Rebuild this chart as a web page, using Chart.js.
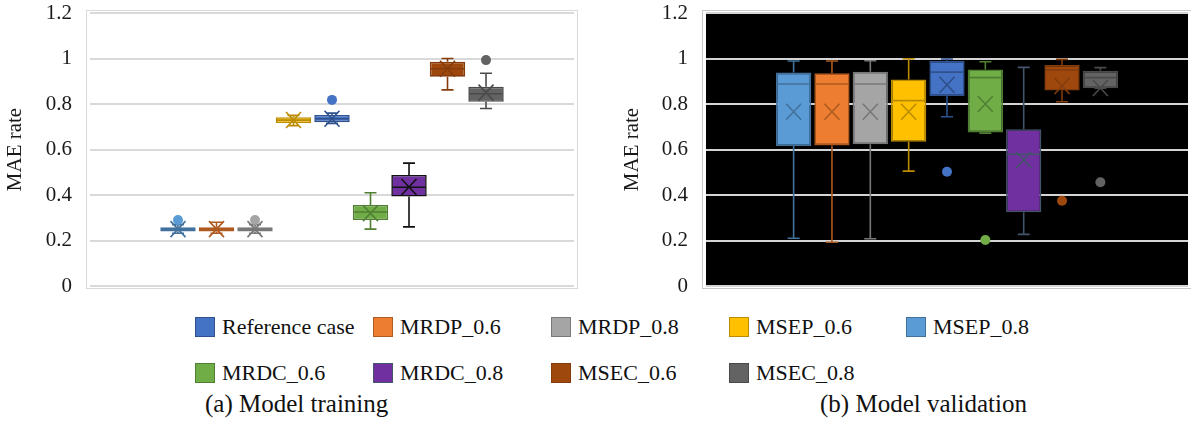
<!DOCTYPE html>
<html>
<head>
<meta charset="utf-8">
<script src="https://cdn.jsdelivr.net/npm/chart.js@4"></script>
<style>
  body { margin: 0; width: 1191px; height: 424px; background: #fff; position: relative; overflow: hidden;
         font-family: 'Liberation Serif', serif; color: #111; }
  canvas { position: absolute; top: 0; }
  #train { left: 0; }
  #valid { left: 600px; }
  .leg { position: absolute; display: flex; align-items: center; font-size: 22px; white-space: nowrap; font-family: 'Liberation Serif', serif; }
  .leg span.sw { width: 20px; height: 20px; margin-right: 7px; box-sizing: border-box; border: 1px solid; }
  .cap { position: absolute; font-size: 25px; white-space: nowrap; font-family: 'Liberation Serif', serif; }
</style>
</head>
<body>
<canvas id="train" width="580" height="300"></canvas>
<canvas id="valid" width="591" height="300"></canvas>
<div id="legend"></div>
<div class="cap" style="left:205px; top:390px">(a) Model training</div>
<div class="cap" style="left:820px; top:390px">(b) Model validation</div>
<script>
const seriesNames = ["Reference case", "MRDP_0.6", "MRDP_0.8", "MSEP_0.6", "MSEP_0.8", "MRDC_0.6", "MRDC_0.8", "MSEC_0.6", "MSEC_0.8"];
const yTickLabels = ["0", "0.2", "0.4", "0.6", "0.8", "1", "1.2"];

// (a) training
const trainMin    = [0.232, 0.232, 0.232, 0.705, 0.715, 0.25, 0.26, 0.862, 0.78];
const trainQ1     = [0.240, 0.240, 0.240, 0.716, 0.720, 0.29, 0.393, 0.92, 0.81];
const trainMedian = [0.250, 0.250, 0.250, 0.729, 0.735, 0.325, 0.434, 0.955, 0.845];
const trainQ3     = [0.258, 0.258, 0.258, 0.742, 0.752, 0.356, 0.488, 0.986, 0.876];
const trainMax    = [0.270, 0.280, 0.270, 0.750, 0.760, 0.41, 0.54, 1.0, 0.935];
const trainMean   = [0.250, 0.250, 0.250, 0.730, 0.735, 0.32, 0.435, 0.955, 0.85];
const trainOutliers = [[0.29], [], [0.29], [], [0.818], [], [], [], [0.993]];

// (b) validation
const valMin    = [0.21, 0.192, 0.208, 0.505, 0.744, 0.672, 0.227, 0.81, 0.869];
const valQ1     = [0.615, 0.618, 0.623, 0.634, 0.835, 0.675, 0.324, 0.859, 0.869];
const valMedian = [0.888, 0.888, 0.888, 0.815, 0.94, 0.916, 0.579, 0.95, 0.916];
const valQ3     = [0.938, 0.935, 0.942, 0.908, 0.99, 0.952, 0.689, 0.971, 0.946];
const valMax    = [0.989, 0.989, 0.99, 0.999, 0.998, 0.986, 0.961, 0.996, 0.96];
const valMean   = [0.766, 0.766, 0.766, 0.766, 0.884, 0.80, 0.554, 0.879, 0.87];
const valOutliers = [[], [], [], [], [0.502], [0.202], [], [0.375], [0.456]];

const fills = ["#5B9BD5", "#ED7D31", "#A5A5A5", "#FFC000", "#4472C4", "#70AD47", "#7030A0", "#9E480E", "#636363"];
const trainLines = ["#41719C", "#AE5A21", "#787878", "#BC8C00", "#2F528F", "#507E32", "#111111", "#843C0C", "#4A4A4A"];
const valLines = ["#41719C", "#AE5A21", "#787878", "#BC8C00", "#2F528F", "#507E32", "#44546A", "#843C0C", "#4A4A4A"];
const legendColors = ["#4472C4", "#ED7D31", "#A5A5A5", "#FFC000", "#5B9BD5", "#70AD47", "#7030A0", "#9E480E", "#636363"];
const legendBorders = ["#2F528F", "#AE5A21", "#787878", "#BC8C00", "#41719C", "#507E32", "#44546A", "#843C0C", "#4A4A4A"];

const FONT = "'Liberation Serif', serif";

// whiskers, median, mean cross and outliers on top of the floating bars
const boxExtras = {
  id: "boxExtras",
  beforeDraw(chart, args, opts) {
    const { ctx, chartArea: a } = chart;
    ctx.save();
    if (opts.dark) {
      ctx.fillStyle = "#000";
      ctx.fillRect(a.left, a.top, a.right - a.left, a.bottom - a.top);
    }
    ctx.strokeStyle = opts.frame;
    ctx.lineWidth = 1;
    ctx.strokeRect(a.left - 3.5, a.top - 2.5, a.right - a.left + 7, a.bottom - a.top + 5);
    ctx.restore();
  },
  afterDatasetsDraw(chart, args, opts) {
    const { ctx } = chart;
    const ys = chart.scales.y;
    const py = (v) => ys.getPixelForValue(v);
    const st = opts.stats;
    chart.data.datasets.forEach((ds, i) => {
      const bar = chart.getDatasetMeta(i).data[0];
      const x = bar.x, half = bar.width / 2;
      ctx.save();
      ctx.strokeStyle = opts.lines[i];
      ctx.lineWidth = 1.6;
      ctx.beginPath();
      // upper whisker + cap
      ctx.moveTo(x, py(st.q3[i])); ctx.lineTo(x, py(st.max[i]));
      ctx.moveTo(x - 6, py(st.max[i])); ctx.lineTo(x + 6, py(st.max[i]));
      // lower whisker + cap
      ctx.moveTo(x, py(st.q1[i])); ctx.lineTo(x, py(st.min[i]));
      ctx.moveTo(x - 6, py(st.min[i])); ctx.lineTo(x + 6, py(st.min[i]));
      // median
      ctx.moveTo(x - half + 1, py(st.med[i])); ctx.lineTo(x + half - 1, py(st.med[i]));
      // mean cross
      const my = py(st.mean[i]);
      ctx.moveTo(x - 7.5, my - 8); ctx.lineTo(x + 7.5, my + 8);
      ctx.moveTo(x + 7.5, my - 8); ctx.lineTo(x - 7.5, my + 8);
      ctx.stroke();
      ctx.fillStyle = fills[i];
      st.out[i].forEach((v) => {
        ctx.beginPath();
        ctx.arc(x, py(v), 5, 0, Math.PI * 2);
        ctx.fill();
      });
      ctx.restore();
    });
  },
};

function makeChart(id, stats, lines, dark, yWidth, pad) {
  const datasets = seriesNames.map((name, i) => ({
    label: name,
    data: [[stats.q1[i], stats.q3[i]]],
    backgroundColor: fills[i],
    borderColor: lines[i],
    borderWidth: 1.6,
    borderSkipped: false,
    categoryPercentage: 0.716,
    barPercentage: 0.92,
  }));
  return new Chart(document.getElementById(id), {
    type: "bar",
    data: { labels: [""], datasets },
    plugins: [boxExtras],
    options: {
      responsive: false,
      animation: false,
      devicePixelRatio: 1,
      layout: { padding: pad },
      plugins: {
        legend: { display: false },
        tooltip: { enabled: false },
        boxExtras: { stats, lines, dark, frame: dark ? "#c8c8c8" : "#d9d9d9" },
      },
      scales: {
        x: { display: false },
        y: {
          min: 0, max: 1.2,
          afterFit: (s) => { s.width = yWidth; s.paddingTop = 0; s.paddingBottom = 0; },
          ticks: {
            stepSize: 0.2,
            padding: 18,
            color: "#1a1a1a",
            font: { family: FONT, size: 21 },
            callback: (v, i) => yTickLabels[i],
          },
          grid: { color: dark ? "#d4d4d4" : "#d9d9d9", lineWidth: 2, drawTicks: false },
          border: { display: false },
          title: { display: true, text: "MAE rate", color: "#1a1a1a", font: { family: FONT, size: 21 }, padding: { top: 0, bottom: 0 } },
        },
      },
    },
  });
}

makeChart("train",
  { min: trainMin, q1: trainQ1, med: trainMedian, q3: trainQ3, max: trainMax, mean: trainMean, out: trainOutliers },
  trainLines, false, 87, { left: 3, right: 6, top: 13, bottom: 14 });
makeChart("valid",
  { min: valMin, q1: valQ1, med: valMedian, q3: valQ3, max: valMax, mean: valMean, out: valOutliers },
  valLines, true, 86, { left: 20, right: 3, top: 13, bottom: 14 });

// shared legend, two rows
const legCols = [195, 373, 551, 729, 906];
const legRows = [314, 360];
const legend = document.getElementById("legend");
seriesNames.forEach((name, i) => {
  const el = document.createElement("div");
  el.className = "leg";
  el.style.left = legCols[i % 5] + "px";
  el.style.top = legRows[i < 5 ? 0 : 1] + "px";
  el.innerHTML = `<span class="sw" style="background:${legendColors[i]};border-color:${legendBorders[i]}"></span>${name}`;
  legend.appendChild(el);
});
</script>
</body>
</html>
